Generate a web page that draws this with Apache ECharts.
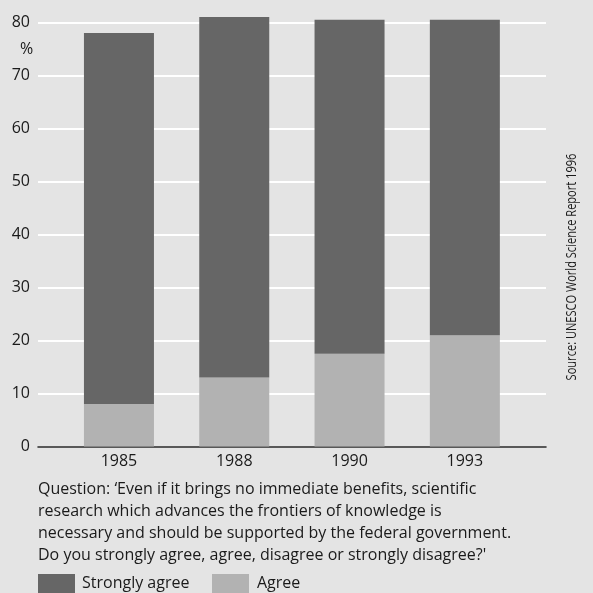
<!DOCTYPE html>
<html>
<head>
<meta charset="utf-8">
<script src="https://cdn.jsdelivr.net/npm/echarts@6/dist/echarts.min.js"></script>
<style>
  html, body { margin: 0; padding: 0; background: #e4e4e4; }
  #chart { width: 593px; height: 593px; }
</style>
</head>
<body>
<div id="chart"></div>
<script>
// Survey years
const years = ['1985', '1988', '1990', '1993'];
// Share of respondents (%)
const agree = [8, 13, 17.5, 21];
const stronglyAgree = [70, 68, 63, 59.5];
// Value axis
const yMax = 80;
const yStep = 10;

const questionLines = [
  'Question: \u2018Even if it brings no immediate benefits, scientific',
  'research which advances the frontiers of knowledge is',
  'necessary and should be supported by the federal government.',
  'Do you strongly agree, agree, disagree or strongly disagree?\''
];
const sourceText = 'Source: UNESCO World Science Report 1996';

const FONT = 'Open Sans';
const TXT = '#1a1a1a';
const DARK = '#666666';
const LIGHT = '#b2b2b2';

const chart = echarts.init(document.getElementById('chart'), null, { renderer: 'canvas' });

const gridTop = 22.3;
const gridBottom = 593 - 446.5;

chart.setOption({
  backgroundColor: '#e4e4e4',
  animation: false,
  textStyle: { fontFamily: FONT, color: TXT },
  grid: [
    { left: 38, right: 47, top: gridTop, bottom: gridBottom },
    { left: 61.3, right: 70.5, top: gridTop, bottom: gridBottom }
  ],
  xAxis: [
    {
      gridIndex: 0, type: 'category', data: years,
      axisLine: { show: true, lineStyle: { color: '#222', width: 1.5 } },
      axisTick: { show: false }, axisLabel: { show: false }
    },
    {
      gridIndex: 1, type: 'category', data: years,
      axisLine: { show: false }, axisTick: { show: false },
      axisLabel: { color: TXT, fontSize: 16, fontFamily: FONT, margin: 7 }
    }
  ],
  yAxis: [
    {
      gridIndex: 0, type: 'value', min: 0, max: yMax, interval: yStep,
      axisLine: { show: false }, axisTick: { show: false },
      axisLabel: { color: TXT, fontSize: 16, fontFamily: FONT, margin: 8 },
      splitLine: { show: true, lineStyle: { color: '#ffffff', width: 2 } }
    },
    {
      gridIndex: 1, type: 'value', min: 0, max: yMax, interval: yStep,
      show: false, splitLine: { show: false }
    }
  ],
  legend: [
    {
      data: ['Strongly agree'], left: 38, top: 574,
      icon: 'rect', itemWidth: 37, itemHeight: 19, itemGap: 0,
      textStyle: { color: TXT, fontSize: 16, fontFamily: FONT, padding: [0, 0, 0, 2] },
      padding: 0
    },
    {
      data: ['Agree'], left: 212, top: 574,
      icon: 'rect', itemWidth: 37, itemHeight: 19, itemGap: 0,
      textStyle: { color: TXT, fontSize: 16, fontFamily: FONT, padding: [0, 0, 0, 3] },
      padding: 0
    }
  ],
  series: [
    {
      name: 'Agree', type: 'bar', stack: 'total', xAxisIndex: 1, yAxisIndex: 1,
      data: agree, barWidth: 70, clip: false, itemStyle: { color: LIGHT }
    },
    {
      name: 'Strongly agree', type: 'bar', stack: 'total', xAxisIndex: 1, yAxisIndex: 1,
      data: stronglyAgree, barWidth: 70, clip: false, itemStyle: { color: DARK }
    }
  ],
  graphic: [
    {
      type: 'text', left: 20, top: 41,
      style: { text: '%', fill: TXT, font: '16px "' + FONT + '"' }
    },
    {
      type: 'text', x: 38, y: 478,
      style: {
        text: questionLines.join('\n'), fill: TXT,
        font: '16px "' + FONT + '"', lineHeight: 22
      }
    },
    {
      // condensed vertical source note along the right edge
      type: 'text', x: 572, y: 267, rotation: Math.PI / 2, scaleX: 0.79,
      style: {
        text: sourceText, fill: TXT, font: '14px "' + FONT + '"',
        align: 'center', verticalAlign: 'middle'
      }
    }
  ]
});
</script>
</body>
</html>
